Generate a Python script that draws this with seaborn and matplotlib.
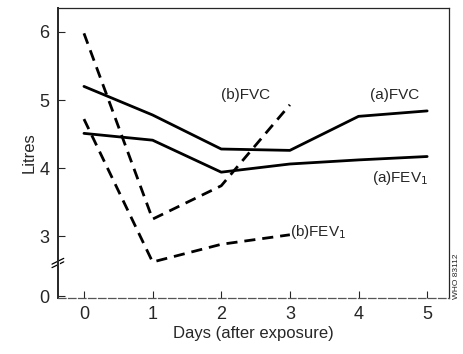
import matplotlib
matplotlib.use("Agg")
import matplotlib.pyplot as plt
import seaborn as sns
import pandas as pd

days_a = [0, 1, 2, 3, 4, 5]
fvc_a = [5.20, 4.78, 4.28, 4.26, 4.76, 4.84]
fev1_a = [4.51, 4.41, 3.94, 4.06, 4.12, 4.17]

days_b = [0, 1, 2, 3]
fvc_b = [5.98, 3.25, 3.74, 4.93]
fev1_b = [4.72, 2.62, 2.88, 3.02]

ytick_vals = [0, 3, 4, 5, 6]
zero_pos = 2.12  # axis is broken below 3, 0 sits just under it

sns.set_style("ticks")
plt.rcParams['font.family'] = ['Liberation Sans', 'DejaVu Sans']

df = pd.concat([
    pd.DataFrame({'day': days_a, 'litres': fvc_a, 'serie': '(a)FVC'}),
    pd.DataFrame({'day': days_a, 'litres': fev1_a, 'serie': '(a)FEV1'}),
    pd.DataFrame({'day': days_b, 'litres': fvc_b, 'serie': '(b)FVC'}),
    pd.DataFrame({'day': days_b, 'litres': fev1_b, 'serie': '(b)FEV1'}),
])

fig = plt.figure(figsize=(4.63, 3.54), dpi=100)
ax = fig.add_axes([0.125, 0.158, 0.845, 0.819])

for s in ['(a)FVC', '(a)FEV1']:
    sns.lineplot(data=df[df.serie == s], x='day', y='litres', ax=ax,
                 color='black', lw=2.0, legend=False)
for s in ['(b)FVC', '(b)FEV1']:
    sns.lineplot(data=df[df.serie == s], x='day', y='litres', ax=ax,
                 color='black', lw=2.0, linestyle=(0, (4, 2.5)), legend=False)

ax.set_xlim(-0.38, 5.32)
ax.set_ylim(2.09, 6.35)
ax.set_xticks(range(6))
ax.set_yticks([zero_pos] + ytick_vals[1:])
ax.set_yticklabels([str(v) for v in ytick_vals])
ax.tick_params(direction='in', length=5, width=0.8, labelsize=13, pad=6)

for sp in ax.spines.values():
    sp.set_linewidth(0.9)
    sp.set_visible(True)
ax.spines['left'].set_linewidth(1.4)
ax.spines['bottom'].set_linestyle((0, (6, 2)))
ax.spines['bottom'].set_color('#555555')

# break marks on the y axis
for dy in (0.0, 0.012):
    ax.plot([-0.015, 0.015], [0.105 + dy, 0.125 + dy], transform=ax.transAxes,
            color='black', lw=0.9, clip_on=False)
ax.plot([0, 0], [0.108, 0.125], transform=ax.transAxes, color='white',
        lw=2, clip_on=False)

ax.set_xlabel('Days (after exposure)', fontsize=12, labelpad=2)
ax.set_ylabel('Litres', fontsize=12, labelpad=2)

ax.text(2.35, 5.08, '(b)FVC', fontsize=11, ha='center', va='center')
ax.text(4.53, 5.08, '(a)FVC', fontsize=11, ha='center', va='center')
ax.text(4.6, 3.86, '(a)FEV$_1$', fontsize=11, ha='center', va='center')
ax.text(3.0, 3.06, '(b)FEV$_1$', fontsize=11, ha='left', va='center')

fig.text(0.985, 0.22, 'WHO 83112', rotation=90, fontsize=6, ha='center',
         va='center')

fig.savefig('out.png', dpi=100)
